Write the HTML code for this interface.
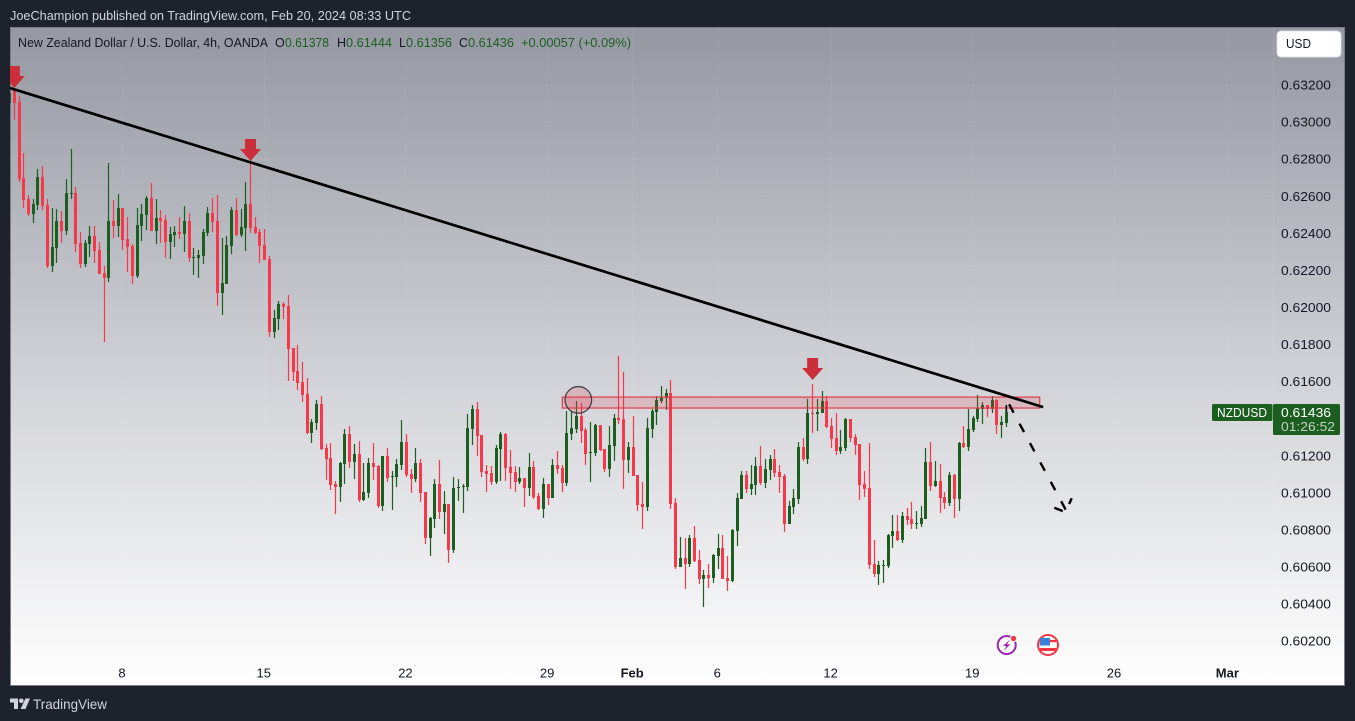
<!DOCTYPE html>
<html lang="en">
<head>
<meta charset="utf-8">
<title>NZDUSD 4h chart</title>
<style>
  html, body { margin: 0; padding: 0; background: #1e222d; }
  body { width: 1355px; height: 721px; overflow: hidden; }
  svg { display: block; font-family: "Liberation Sans", sans-serif; }
</style>
</head>
<body>
<svg id="chart" xmlns="http://www.w3.org/2000/svg" width="1355" height="721" viewBox="0 0 1355 721">
  <defs>
    <linearGradient id="bgGrad" x1="0" y1="0" x2="0" y2="1">
      <stop offset="0" stop-color="#9598a2"/>
      <stop offset="0.55" stop-color="#d3d4d9"/>
      <stop offset="1" stop-color="#ffffff"/>
    </linearGradient>
    <clipPath id="plotClip"><rect x="10" y="28" width="1263" height="657"/></clipPath>
  </defs>

  <text x="10" y="20" font-size="12.5" fill="#d1d4dc" textLength="401" lengthAdjust="spacingAndGlyphs">JoeChampion published on TradingView.com, Feb 20, 2024 08:33 UTC</text>

  <rect x="10.5" y="27.5" width="1334" height="658" fill="url(#bgGrad)" stroke="#7b7e87" stroke-width="1"/>
  <line x1="1273.5" y1="28" x2="1273.5" y2="685" stroke="#ffffff" stroke-opacity="0.08"/>

  <g id="grid" clip-path="url(#plotClip)"></g>
  <g id="candles" clip-path="url(#plotClip)"></g>
  <g id="drawings" clip-path="url(#plotClip)"></g>
  <g id="priceAxis"></g>
  <g id="timeAxis"></g>

  <g font-size="12.5">
    <text x="18" y="47" fill="#131722" textLength="250" lengthAdjust="spacingAndGlyphs">New Zealand Dollar / U.S. Dollar, 4h, OANDA</text>
    <text x="275" y="47" fill="#131722">O</text>
    <text x="285" y="47" fill="#1b5e20" textLength="44" lengthAdjust="spacingAndGlyphs">0.61378</text>
    <text x="337" y="47" fill="#131722">H</text>
    <text x="346" y="47" fill="#1b5e20" textLength="46" lengthAdjust="spacingAndGlyphs">0.61444</text>
    <text x="399" y="47" fill="#131722">L</text>
    <text x="406" y="47" fill="#1b5e20" textLength="46" lengthAdjust="spacingAndGlyphs">0.61356</text>
    <text x="459" y="47" fill="#131722">C</text>
    <text x="468" y="47" fill="#1b5e20" textLength="46" lengthAdjust="spacingAndGlyphs">0.61436</text>
    <text x="521" y="47" fill="#1b5e20" textLength="110" lengthAdjust="spacingAndGlyphs">+0.00057 (+0.09%)</text>
  </g>

  <g>
    <rect x="1277" y="31" width="64" height="26" rx="4" fill="#ffffff" stroke="#e0e1e5" stroke-width="0.8"/>
    <text x="1286" y="48" font-size="12.5" fill="#131722" textLength="25" lengthAdjust="spacingAndGlyphs">USD</text>
  </g>

  <g>
    <rect x="1212" y="404" width="60.5" height="17" rx="1.5" fill="#1b5e20"/>
    <text x="1217" y="417" font-size="12.5" fill="#ffffff" textLength="50" lengthAdjust="spacingAndGlyphs">NZDUSD</text>
    <rect x="1273" y="404" width="67" height="31" rx="1.5" fill="#1b5e20"/>
    <text x="1281" y="417" font-size="13" fill="#ffffff" textLength="50" lengthAdjust="spacingAndGlyphs">0.61436</text>
    <text x="1281" y="431" font-size="13" fill="#c4d2c5" textLength="54" lengthAdjust="spacingAndGlyphs">01:26:52</text>
  </g>

  <g>
    <circle cx="1006.7" cy="645" r="9" fill="#ffffff" stroke="#9c27b0" stroke-width="2"/>
    <path d="M1010 639.5 L1003 646 L1006.5 646 L1003.5 651 L1010.5 644.3 L1007 644.3 Z" fill="#9c27b0"/>
    <circle cx="1013.5" cy="638.5" r="3.2" fill="#f23645" stroke="#ffffff" stroke-width="1"/>
  </g>
  <g>
    <circle cx="1048" cy="645" r="10" fill="#ffffff" stroke="#f23645" stroke-width="2"/>
    <path d="M1040 638 H1050 V645.5 H1039.5 Z" fill="#3d7fd9"/>
    <rect x="1050" y="640" width="6" height="2.2" fill="#f23645"/>
    <rect x="1040" y="648" width="16" height="3" fill="#f23645"/>
  </g>

  <g>
    <path d="M10 698.5 H18 V709 H14 V702.5 H10 Z M25.5 698.5 H30 L25.5 709 H20.5 Z" fill="#d1d4dc"/>
    <circle cx="21.3" cy="700.8" r="2.3" fill="#d1d4dc"/>
    <text x="33" y="709" font-size="14" fill="#d1d4dc" textLength="74" lengthAdjust="spacingAndGlyphs">TradingView</text>
  </g>
</svg>

<script>
// Prices are in points: 1 point = 0.00001 (61436 = 0.61436)
const opens = [
63102,63165,63109,62699,62585,62504,62553,62704,62553,62224,
62321,62467,62413,62612,62618,62348,62234,62342,62386,62310,
62186,62159,62467,62440,62537,62369,62332,62170,62440,62499,
62591,62413,62483,62472,62353,62391,62407,62396,62467,62267,
62267,62278,62402,62510,62467,62078,62126,62332,62526,62391,
62429,62558,62434,62407,62337,62261,61867,61938,62019,62009,
61782,61658,61598,61533,61323,61377,61479,61242,61188,61047,
61031,61155,61317,61166,61209,60961,60999,61161,61145,60929,
61199,61085,61085,61150,61274,61101,61074,61161,61004,60756,
60858,61047,60896,60939,60691,61026,61031,61031,61344,61452,
61312,61118,61107,61058,61236,61317,61139,61112,61058,61080,
61026,61139,60983,60912,61047,60972,61150,61134,61053,61317,
61344,61415,61339,61215,61215,61366,61236,61128,61253,61404,
61398,61177,61247,61096,60939,60923,61344,61436,61496,61512,
61539,60945,60599,60648,60615,60756,60637,60534,60556,60540,
60659,60702,60540,60524,60794,60966,61096,61020,61042,61145,
61053,61123,61182,61112,61091,60831,60923,60966,61247,61182,
61431,61425,61431,61496,61361,61296,61226,61242,61398,61301,
61263,61047,61026,60615,60561,60605,60605,60767,60794,60745,
60875,60858,60831,60831,60858,61166,61037,61064,60977,60945,
61096,60966,61269,61247,61339,61398,61452,61474,61452,61501,
61366,61378];
const highs = [
63165,63178,63142,62832,62607,62584,62747,62764,62584,62537,
62531,62521,62693,62855,62650,62407,62364,62440,62440,62353,
62224,62780,62580,62612,62537,62488,62342,62537,62558,62602,
62672,62585,62526,62499,62434,62440,62488,62548,62510,62321,
62310,62423,62542,62591,62607,62375,62386,62542,62591,62531,
62677,62785,62488,62423,62423,62278,61986,62036,62030,62068,
61782,61798,61706,61620,61398,61501,61523,61263,61269,61064,
61166,61344,61361,61263,61280,61161,61188,61269,61150,61199,
61242,61118,61182,61393,61317,61128,61242,61182,61004,60869,
61074,61177,61010,60939,61085,61074,61047,61425,61474,61490,
61312,61150,61145,61258,61328,61323,61231,61145,61139,61080,
61215,61172,60999,61080,61047,61182,61226,61150,61442,61442,
61496,61485,61350,61382,61371,61366,61236,61361,61425,61739,
61652,61274,61415,61096,61058,61404,61452,61523,61577,61560,
61609,60972,60761,60756,60772,60821,60691,60583,60615,60669,
60777,60772,60659,60804,60999,61118,61118,61150,61193,61253,
61182,61204,61236,61150,61101,60956,61020,61274,61296,61506,
61587,61506,61550,61523,61404,61431,61339,61404,61398,61317,
61263,61118,61269,60745,60632,60637,60777,60880,60880,60896,
60918,60950,60902,60929,61242,61274,61172,61155,61004,61112,
61101,61274,61361,61452,61415,61528,61490,61474,61523,61506,
61415,61444];
const lows = [
63039,63012,62674,62537,62494,62458,62526,62526,62213,62191,
62240,62348,62391,62585,62299,62213,62218,62272,62240,62180,
61813,62137,62375,62380,62310,62191,62126,62159,62359,62418,
62413,62342,62348,62267,62261,62326,62369,62299,62245,62175,
62159,62234,62386,62407,62008,61959,62126,62288,62386,62380,
62305,62402,62396,62240,62256,61840,61835,61879,61938,61604,
61604,61555,61490,61317,61269,61339,61231,61069,61015,60885,
60950,61047,61134,61074,60950,60956,60972,61069,60918,60902,
61058,60907,61031,61123,61085,60999,61058,60950,60723,60659,
60810,60858,60777,60621,60675,60956,60891,61010,61258,61199,
61085,61004,61042,61047,61064,61064,61020,61004,61047,60923,
60983,60966,60907,60864,60934,60972,61101,61004,61037,61285,
61323,61269,61150,61058,61199,61226,61112,61085,61172,61371,
61020,61107,61091,60902,60804,60902,61296,61366,61485,61447,
60912,60588,60599,60480,60599,60626,60507,60383,60486,60513,
60588,60534,60470,60518,60713,60966,60999,60988,60988,61042,
61026,61069,61085,60999,60788,60831,60885,60939,61172,61155,
61323,61334,61431,61350,61242,61204,61209,61226,61274,61204,
60961,60977,60588,60545,60502,60513,60594,60702,60740,60729,
60826,60804,60804,60815,60858,61010,61031,60891,60912,60929,
60864,60902,61242,61226,61328,61382,61371,61409,61431,61317,
61296,61356];
const closes = [
63156,63102,62695,62580,62504,62558,62704,62548,62224,62326,
62467,62413,62618,62618,62342,62234,62348,62386,62305,62180,
62159,62467,62440,62537,62364,62326,62170,62445,62504,62591,
62413,62483,62467,62353,62396,62407,62396,62467,62267,62272,
62283,62407,62510,62461,62078,62132,62337,62526,62391,62434,
62558,62429,62402,62332,62256,61867,61943,62019,62003,61776,
61652,61593,61528,61323,61382,61479,61236,61182,61042,61031,
61161,61317,61166,61209,60961,61004,61161,61139,60929,61199,
61080,61091,61155,61274,61096,61074,61161,60999,60756,60864,
61047,60896,60939,60691,61026,61031,61037,61350,61452,61307,
61112,61101,61058,61242,61317,61134,61107,61058,61080,61026,
61139,60977,60912,61047,60972,61150,61128,61053,61323,61350,
61415,61334,61209,61220,61366,61231,61128,61258,61404,61393,
61177,61247,61091,60934,60923,61350,61442,61501,61517,61539,
60939,60599,60648,60615,60756,60632,60534,60556,60540,60664,
60702,60534,60524,60799,60972,61096,61020,61047,61145,61053,
61128,61182,61107,61085,60831,60929,60972,61247,61182,61431,
61425,61436,61496,61355,61290,61226,61247,61398,61296,61258,
61042,61020,60610,60561,60610,60610,60772,60794,60745,60875,
60853,60831,60837,60864,61166,61037,61064,60972,60945,61096,
60966,61269,61247,61344,61404,61458,61474,61452,61501,61366,
61382,61436];

const priceTicks = [63200,63000,62800,62600,62400,62200,62000,61800,61600,61400,61200,61000,60800,60600,60400,60200];
const timeTickLabels = ["8","15","22","29","Feb","6","12","19","26","Mar"];
const timeTickBars = [23.8,53.8,83.8,113.8,131.8,149.8,173.8,203.8,233.8,257.8];
const timeTickBold = [false,false,false,false,true,false,false,false,false,true];

// Drawings, anchored in chart units (bar index, price points)
const trendBars = [0, 218.8];
const trendPrices = [63184, 61462];
const zoneBars = [117, 218.07];
const zonePrices = [61516, 61457];
const markerBars = [1, 51, 170];
const markerPrices = [63184, 62790, 61608];
const circleBar = 120.4;
const circlePrice = 61501;
const projectionBars = [211.6, 223.6];
const projectionPrices = [61477, 60907];
const projectionLeftBarbBars = [221.15, 222.95];
const projectionLeftBarbPrices = [60919, 60901];
const projectionRightBarbBars = [224.3, 224.85];
const projectionRightBarbPrices = [60939, 60970];
const projectionStubBars = [210.9, 210.9];
const projectionStubPrices = [61473, 61436];

const SVG_NS = "http://www.w3.org/2000/svg";
function xScale(bar) { return 9.6 + 4.7237 * bar; }
function yScale(pts) { return 85 + (63200 - pts) * 0.18533; }
function make(tag, parent) {
  const el = document.createElementNS(SVG_NS, tag);
  parent.appendChild(el);
  return el;
}
function setAll(el, attrs) {
  for (const k in attrs) el.setAttribute(k, attrs[k]);
}

const grid = document.getElementById("grid");
const priceAxis = document.getElementById("priceAxis");
priceTicks.forEach(function (p) {
  const y = Math.round(yScale(p)) + 0.5;
  const gl = make("line", grid);
  setAll(gl, { x1: 10, x2: 1273, y1: y, y2: y, stroke: "#ffffff", "stroke-opacity": 0.05 });
  
  
  const t = make("text", priceAxis);
  setAll(t, { x: 1281, y: yScale(p) + 4.6, "font-size": 13, fill: "#131722", textLength: 50, lengthAdjust: "spacingAndGlyphs" });
  t.textContent = (p / 100000).toFixed(5);
  
  
});

const timeAxis = document.getElementById("timeAxis");
timeTickLabels.forEach(function (label, i) {
  const x = xScale(timeTickBars[i]);
  const gl = make("line", grid);
  setAll(gl, { x1: Math.round(x) + 0.5, x2: Math.round(x) + 0.5, y1: 28, y2: 685, stroke: "#ffffff", "stroke-opacity": 0.05 });
  
  
  const t = make("text", timeAxis);
  setAll(t, { x: x, y: 677.5, "font-size": 13, "text-anchor": "middle", fill: "#131722", "font-weight": timeTickBold[i] ? "bold" : "normal" });
  t.textContent = label;
  
  
});

const candleLayer = document.getElementById("candles");
opens.forEach(function (open, i) {
  const close = closes[i];
  const up = close >= open;
  const color = up ? "#1b5e20" : "#f7374a";
  const cx = Math.round(xScale(i) - 0.5);
  const top = Math.round(yScale(Math.max(open, close)));
  const bottom = Math.round(yScale(Math.min(open, close)));
  const wickTop = Math.round(yScale(highs[i]));
  const wickBottom = Math.round(yScale(lows[i]));
  const wick = make("rect", candleLayer);
  setAll(wick, { x: cx - 0.1, y: wickTop, width: 1.2, height: Math.max(1, wickBottom - wickTop), fill: color });
  
  
  const body = make("rect", candleLayer);
  setAll(body, { x: cx - 1, y: top, width: 3, height: Math.max(1, bottom - top), fill: color });
  
  
});

const drawings = document.getElementById("drawings");

const zone = make("rect", drawings);
setAll(zone, {
  x: xScale(zoneBars[0]), y: yScale(zonePrices[0]),
  width: xScale(zoneBars[1]) - xScale(zoneBars[0]),
  height: yScale(zonePrices[1]) - yScale(zonePrices[0]),
  fill: "#e5394a", "fill-opacity": 0.18, stroke: "#e23a48", "stroke-width": 1.2
});



const circle = make("circle", drawings);
setAll(circle, {
  cx: xScale(circleBar), cy: yScale(circlePrice), r: 13.3,
  fill: "#e5394a", "fill-opacity": 0.2, stroke: "#2a2a30", "stroke-opacity": 0.85, "stroke-width": 1.3
});



const trend = make("line", drawings);
setAll(trend, {
  x1: xScale(trendBars[0]), y1: yScale(trendPrices[0]),
  x2: xScale(trendBars[1]), y2: yScale(trendPrices[1]),
  stroke: "#000000", "stroke-width": 2.7
});



markerBars.forEach(function (bar, i) {
  const x = xScale(bar);
  const tip = yScale(markerPrices[i]);
  const arrow = make("path", drawings);
  setAll(arrow, {
    d: "M" + (x - 5.5) + " " + (tip - 22) + " H" + (x + 5.5) + " V" + (tip - 12) + " H" + (x + 10.5) +
       " L" + x + " " + tip + " L" + (x - 10.5) + " " + (tip - 12) + " H" + (x - 5.5) + " Z",
    fill: "#cc2f3c"
  });
  
  
});

const projection = make("line", drawings);
setAll(projection, {
  x1: xScale(projectionBars[0]), y1: yScale(projectionPrices[0]),
  x2: xScale(projectionBars[1]), y2: yScale(projectionPrices[1]),
  stroke: "#000000", "stroke-width": 2.4, "stroke-dasharray": "9.5 12.5"
});



const leftBarb = make("line", drawings);
setAll(leftBarb, {
  x1: xScale(projectionLeftBarbBars[0]), y1: yScale(projectionLeftBarbPrices[0]),
  x2: xScale(projectionLeftBarbBars[1]), y2: yScale(projectionLeftBarbPrices[1]),
  stroke: "#000000", "stroke-width": 2.4
});



const rightBarb = make("line", drawings);
setAll(rightBarb, {
  x1: xScale(projectionRightBarbBars[0]), y1: yScale(projectionRightBarbPrices[0]),
  x2: xScale(projectionRightBarbBars[1]), y2: yScale(projectionRightBarbPrices[1]),
  stroke: "#000000", "stroke-width": 2.4
});



const stub = make("line", drawings);
setAll(stub, {
  x1: xScale(projectionStubBars[0]) + 0.5, y1: yScale(projectionStubPrices[0]),
  x2: xScale(projectionStubBars[1]) + 0.5, y2: yScale(projectionStubPrices[1]),
  stroke: "#000000", "stroke-width": 1.6
});


</script>
</body>
</html>
